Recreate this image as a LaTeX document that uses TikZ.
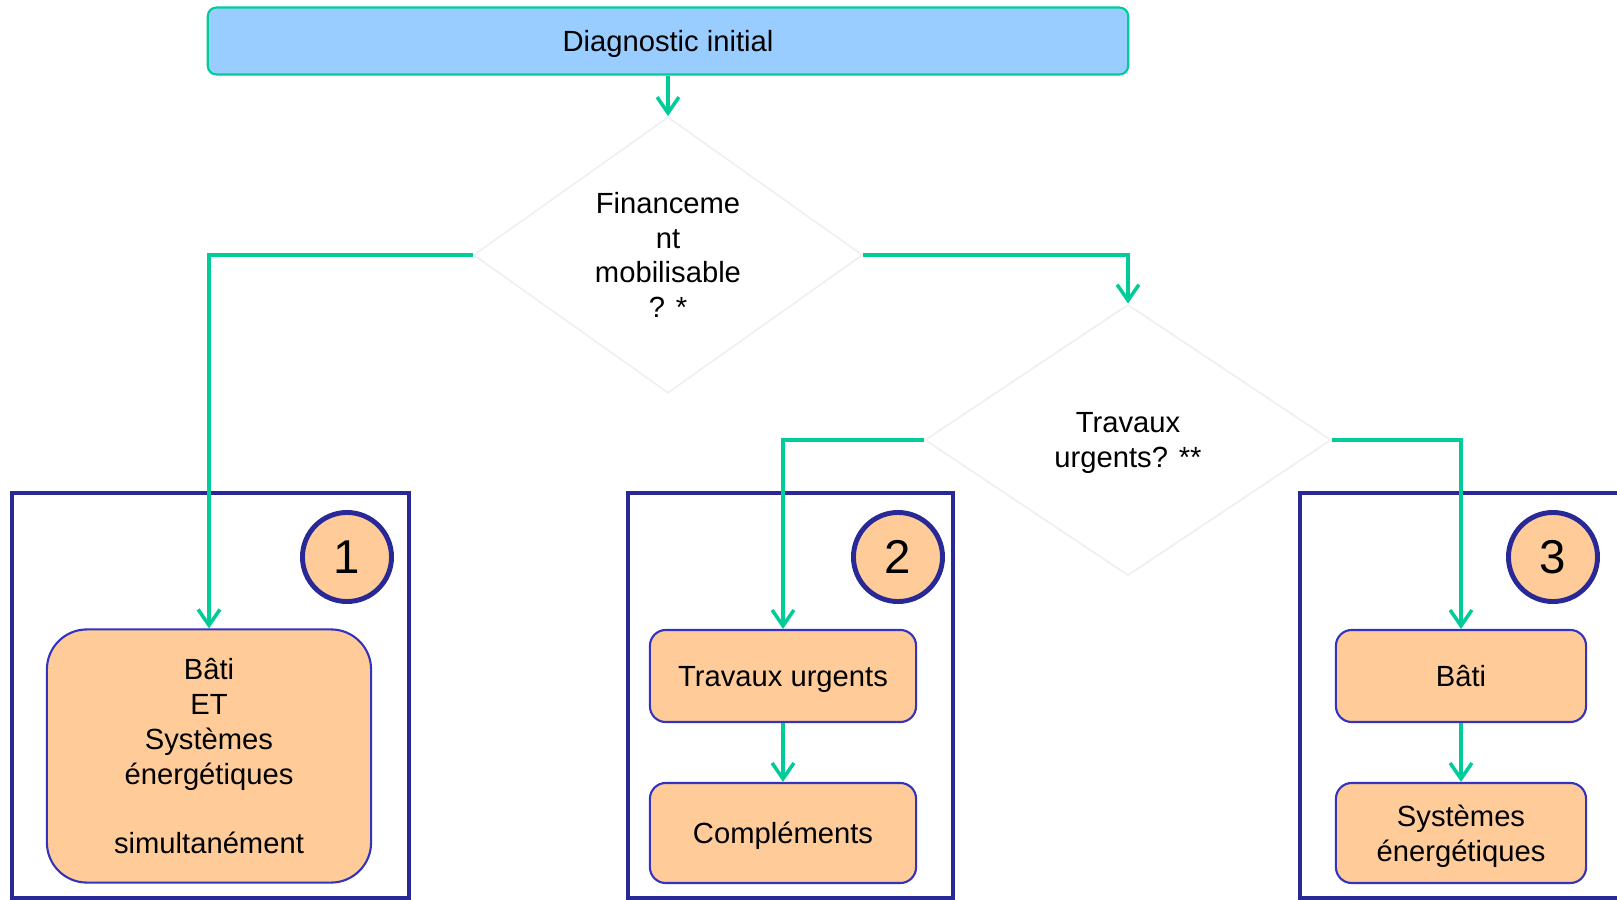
\documentclass[tikz,border=0pt]{standalone}
\usepackage{fontspec}
\setmainfont{Liberation Sans}
\usetikzlibrary{shapes.geometric, arrows.meta}
\definecolor{flowgreen}{RGB}{0,204,153}
\definecolor{skyblue}{RGB}{153,204,255}
\definecolor{peach}{RGB}{255,204,153}
\definecolor{frameblue}{RGB}{40,40,150}
\definecolor{boxblue}{RGB}{51,51,190}
\definecolor{diamondgrey}{RGB}{240,240,240}

\begin{document}
\begin{tikzpicture}[x=0.01cm, y=-0.01cm,
    font=\fontsize{8.3}{9.9}\selectfont,
    flow/.style={draw=flowgreen, line width=1pt, -{Straight Barb[length=4.5pt,width=6.2pt]}},
    startbox/.style={draw=flowgreen, line width=0.6pt, fill=skyblue, rounded corners=2.5pt, text depth=0pt},
    decision/.style={diamond, draw=diamondgrey, line width=0.5pt, align=center, inner sep=0pt, text depth=0pt},
    stepbox/.style={draw=boxblue, line width=0.6pt, fill=peach, rounded corners=4.5pt, align=center, text depth=0pt},
    numcircle/.style={circle, draw=frameblue, line width=1.4pt, fill=peach, minimum size=0.89cm, inner sep=0pt, font=\fontsize{13.5}{16}\selectfont},
    frame/.style={draw=frameblue, line width=1.4pt}]
    \clip (0,0) rectangle (1617,900);

    % Draw the three frames
    \draw[frame] (12,493) rectangle (409,898);
    \draw[frame] (628,493) rectangle (953,898);
    \draw[frame] (1300,493) rectangle (1650,898);

    % Draw the start box and the two questions
    \node[startbox, minimum width=9.2cm, minimum height=0.67cm] (diag) at (668,41) {Diagnostic initial};
    \node[decision, minimum width=3.89cm, minimum height=2.76cm] (fin) at (668,255) {Financeme\\nt\\mobilisable\\? *};
    \node[decision, minimum width=4.06cm, minimum height=2.71cm] (urg) at (1128,440) {Travaux\\urgents? **};

    % Draw the numbered circles
    \node[numcircle] (c1) at (347,557) {1};
    \node[numcircle] (c2) at (898,557) {2};
    \node[numcircle] (c3) at (1553,557) {3};

    % Draw the work boxes
    \node[stepbox, rounded corners=0.4cm, minimum width=3.24cm, minimum height=2.53cm] (both) at (209,756) {B\^ati\\ET\\Syst\`emes\\\'energ\'etiques\\[9.9pt]simultan\'ement};
    \node[stepbox, minimum width=2.66cm, minimum height=0.92cm] (trav) at (783,676) {Travaux urgents};
    \node[stepbox, minimum width=2.66cm, minimum height=1cm] (compl) at (783,833) {Compl\'ements};
    \node[stepbox, minimum width=2.5cm, minimum height=0.92cm] (bati) at (1461,676) {B\^ati};
    \node[stepbox, minimum width=2.5cm, minimum height=1cm] (sys) at (1461,833) {Syst\`emes\\\'energ\'etiques};

    % Draw the connectors
    \draw[flow] (diag) -- (fin);
    \draw[flow] (fin.west) -| (both.north);
    \draw[flow] (fin.east) -| (urg.north);
    \draw[flow] (urg.west) -| (trav.north);
    \draw[flow] (urg.east) -| (bati.north);
    \draw[flow] (trav) -- (compl);
    \draw[flow] (bati) -- (sys);
\end{tikzpicture}
\end{document}
